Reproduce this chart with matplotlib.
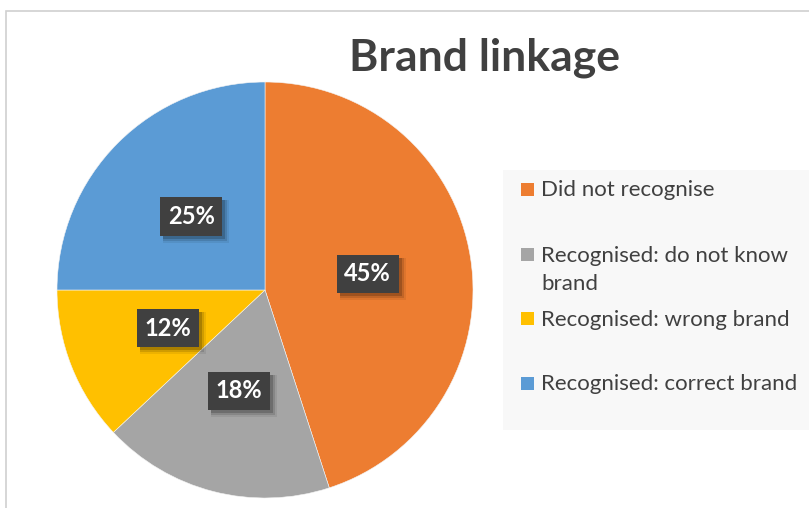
import matplotlib
matplotlib.use("Agg")
import matplotlib.pyplot as plt
from matplotlib.patches import Rectangle
from matplotlib.transforms import IdentityTransform
import numpy as np

# Chart data
categories = ["Did not recognise", "Recognised: do not know\nbrand",
              "Recognised: wrong brand", "Recognised: correct brand"]
values = [45, 18, 12, 25]
colors = ["#ED7D31", "#A5A5A5", "#FFC000", "#5B9BD5"]

W, H = 809, 508
fig = plt.figure(figsize=(W / 100, H / 100), dpi=100)
fig.patch.set_facecolor("white")


def px(x, y):
    """Pixel coordinates (from top-left) to figure fraction."""
    return x / W, 1 - y / H


# Chart area border
fig.patches.append(Rectangle(px(6, 520), (W + 20) / W, (520 - 11) / H,
                             transform=fig.transFigure, fill=False,
                             edgecolor="#d0d0d0", linewidth=1.2, zorder=0))

# Legend panel
fig.patches.append(Rectangle(px(503, 430), (W - 503 + 5) / W, 260 / H,
                             transform=fig.transFigure, facecolor="#f8f8f8",
                             edgecolor="none", zorder=0))

# Pie axes: centre (265, 290) px, radius 208 px
cx, cy, r = 265, 290, 208
ax = fig.add_axes([(cx - r) / W, (H - cy - r) / H, 2 * r / W, 2 * r / H])
wedges, _ = ax.pie(values, colors=colors, startangle=90, counterclock=False,
                   radius=1, wedgeprops=dict(linewidth=0.4, edgecolor="#f4f4f4"))
ax.set_xlim(-1, 1)
ax.set_ylim(-1, 1)
ax.set_aspect("equal")
ax.axis("off")

# Data labels in dark boxes
total = sum(values)
angle = 90.0
labels = []
for v in values:
    span = 360.0 * v / total
    mid = np.deg2rad(angle - span / 2)
    angle -= span
    x, y = 0.5 * np.cos(mid), 0.5 * np.sin(mid)
    t = ax.text(x, y, f"{v}%", ha="center", va="center", fontsize=17,
                fontweight="bold", family="Lato", color="white",
                bbox=dict(boxstyle="square,pad=0.32", facecolor="#404040",
                          edgecolor="none"), zorder=10)
    labels.append(t)

# Soft drop shadows behind the label boxes
fig.canvas.draw()
renderer = fig.canvas.get_renderer()
for t in labels:
    bb = t.get_bbox_patch().get_window_extent(renderer)
    for off, grow, alpha in [(5, 2, 0.07), (4, 1, 0.12), (3, 0, 0.18)]:
        ax.add_patch(Rectangle((bb.x0 + off - grow, bb.y0 - off - grow),
                               bb.width + 2 * grow, bb.height + 2 * grow,
                               transform=IdentityTransform(), facecolor="black",
                               edgecolor="none", alpha=alpha, zorder=5,
                               clip_on=False))

# Title
fig.text(*px(484, 70), "Brand linkage", ha="center", va="baseline",
         fontsize=32, fontweight="bold", family="Lato", color="#404040")

# Legend entries
legend_rows = [
    (categories[0], 189, [196.5]),
    (categories[1], 254, [262, 289.5]),
    (categories[2], 318, [325.5]),
    (categories[3], 383, [390.5]),
]
for (label, marker_y, baselines), col in zip(legend_rows, colors):
    fig.patches.append(Rectangle(px(521, marker_y + 6.5), 13 / W, 13 / H,
                                 transform=fig.transFigure, facecolor=col,
                                 edgecolor="none", zorder=2))
    for line, base in zip(label.split("\n"), baselines):
        fig.text(*px(541, base), line, ha="left", va="baseline",
                 fontsize=16, family="Lato", color="#404040")

fig.savefig("out.png", dpi=100)
